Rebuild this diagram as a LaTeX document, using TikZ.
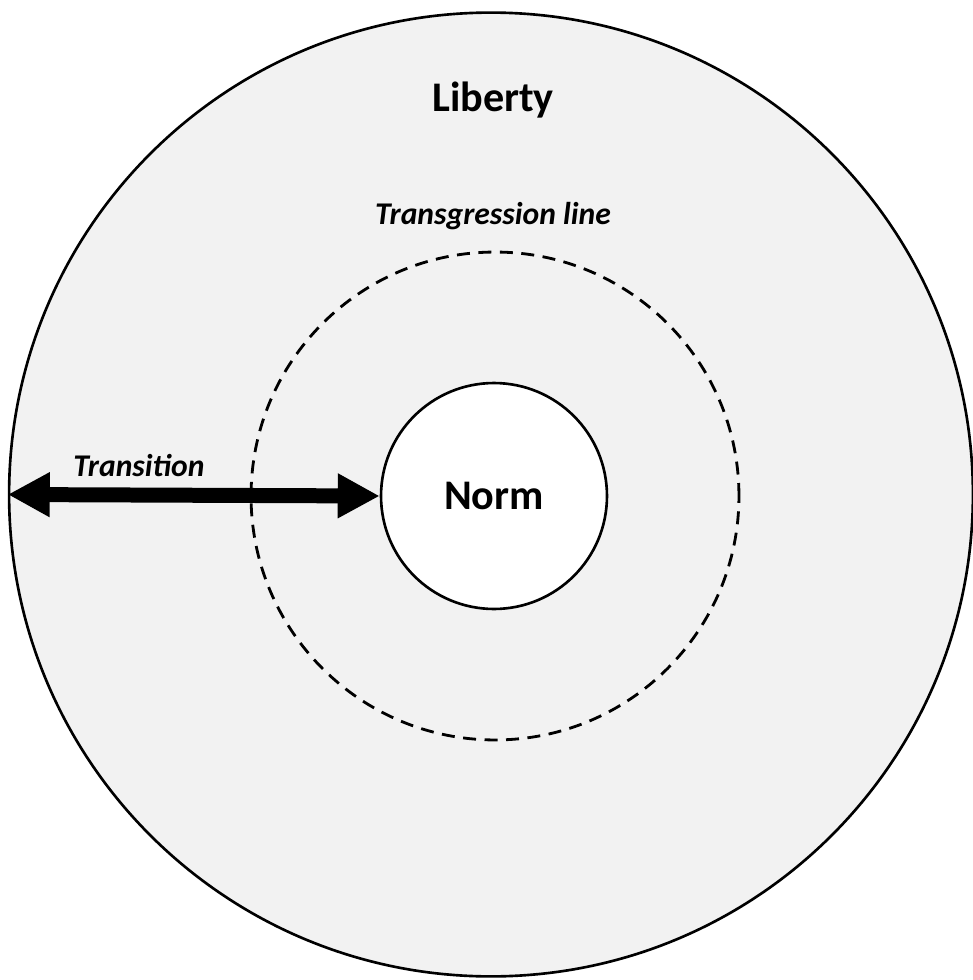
\documentclass[tikz,border=0pt]{standalone}
\usepackage{fontspec}
\setmainfont{Carlito}
\usetikzlibrary{arrows.meta}
\definecolor{libertygray}{HTML}{F2F2F2}
\tikzset{
  ring/.style={circle, draw, inner sep=0pt, line width=1.5pt},
  bigword/.style={font=\fontsize{24}{28}\selectfont\bfseries},
  smallword/.style={font=\fontsize{18}{22}\selectfont\bfseries\itshape},
  transarrow/.style={line width=0.3cm, {Triangle[length=0.84cm,width=0.84cm]}-{Triangle[length=0.84cm,width=0.84cm]}}
}
\begin{document}
\begin{tikzpicture}[x=0.02cm, y=-0.02cm]
  \useasboundingbox (0,0) rectangle (973,980);

  % Circles
  \node[ring, fill=libertygray, minimum size=19.28cm] (liberty) at (491,494.5) {};
  \node[ring, dash pattern=on 0.26cm off 0.17cm, line width=1.6pt, minimum size=9.76cm] (transgression) at (495,496) {};
  \node[ring, fill=white, minimum size=4.52cm, bigword] (norm) at (494,496) {Norm};

  % Labels
  \node[bigword] (libertylabel) at (493,100) {Liberty};
  \node[smallword] (transgressionlabel) at (493,216) {Transgression line};
  \node[smallword] (transitionlabel) at (139,466) {Transition};

  % Arrow
  \draw[transarrow] (liberty.west) -- (norm.west);
\end{tikzpicture}
\end{document}
